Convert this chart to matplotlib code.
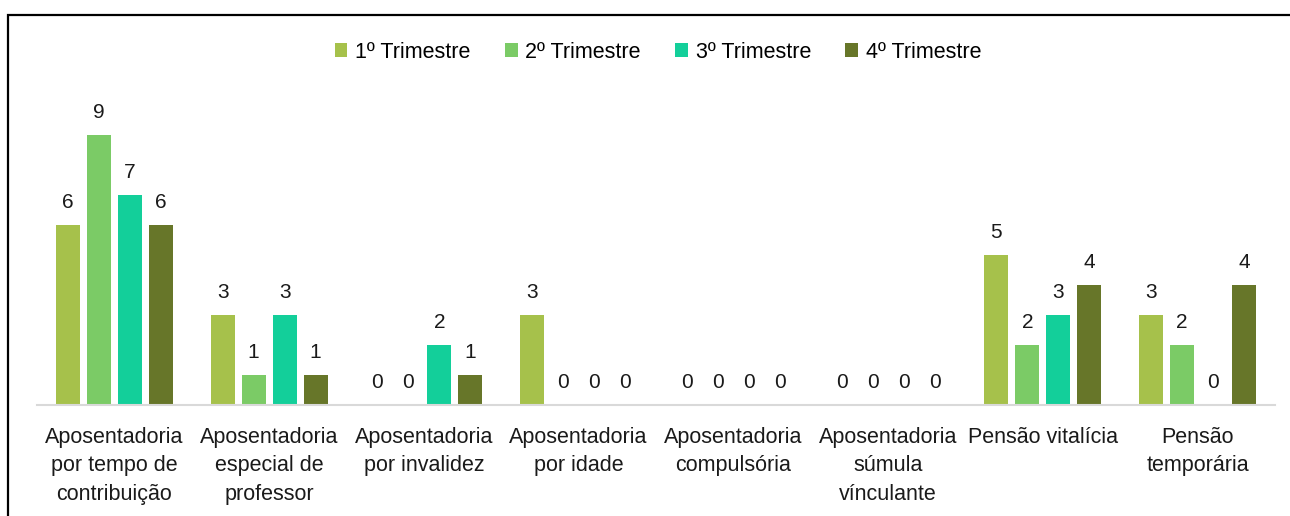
import matplotlib

matplotlib.use("Agg")
import matplotlib.pyplot as plt
import numpy as np
from matplotlib.patches import Rectangle

plt.rcParams["font.family"] = ["Liberation Sans", "DejaVu Sans"]

categories = [
    "Aposentadoria\npor tempo de\ncontribuição",
    "Aposentadoria\nespecial de\nprofessor",
    "Aposentadoria\npor invalidez",
    "Aposentadoria\npor idade",
    "Aposentadoria\ncompulsória",
    "Aposentadoria\nsúmula\nvínculante",
    "Pensão vitalícia",
    "Pensão\ntemporária",
]
series_names = ["1º Trimestre", "2º Trimestre", "3º Trimestre", "4º Trimestre"]
q1 = [6, 3, 0, 3, 0, 0, 5, 3]
q2 = [9, 1, 0, 0, 0, 0, 2, 2]
q3 = [7, 3, 2, 0, 0, 0, 3, 0]
q4 = [6, 1, 1, 0, 0, 0, 4, 4]
colors = ["#A6C14B", "#7BCB66", "#13CF9A", "#677629"]

fig = plt.figure(figsize=(12.9, 5.16), dpi=100)
ax = fig.add_axes([37 / 1290, 1 - 405 / 516, 1238 / 1290, 300 / 516])

x = np.arange(len(categories))
width = 0.155
step = 0.2
for i, (vals, name, col) in enumerate(zip([q1, q2, q3, q4], series_names, colors)):
    pos = x + (i - 1.5) * step
    bars = ax.bar(pos, vals, width, color=col, label=name)
    for b, v in zip(bars, vals):
        ax.annotate(str(v), (b.get_x() + b.get_width() / 2, v), xytext=(0, 9),
                    textcoords="offset points", ha="center", va="bottom",
                    fontsize=15, color="#1a1a1a")

ax.set_xlim(-0.5, len(categories) - 0.5)
ax.set_ylim(0, 10)
ax.set_xticks(x)
ax.set_xticklabels(categories, fontsize=15.5, linespacing=1.45, color="#1a1a1a")
ax.tick_params(axis="x", length=0, pad=16)
ax.set_yticks([])
for s in ["top", "right", "left"]:
    ax.spines[s].set_visible(False)
ax.spines["bottom"].set_color("#D9D9D9")
ax.spines["bottom"].set_linewidth(1.5)

fig.legend(loc="center", bbox_to_anchor=(658 / 1290, 1 - 52 / 516), ncol=4,
           frameon=False, fontsize=15.5, handlelength=0.6, handleheight=0.6,
           handletextpad=0.35, columnspacing=1.6)

# outer border (top and left visible in the crop)
fig.add_artist(Rectangle((8 / 1290, -0.05), 1.1, 0.05 + 1 - 15 / 516,
                         transform=fig.transFigure, fill=False,
                         edgecolor="black", linewidth=1.6))

fig.savefig("out.png", dpi=100)
